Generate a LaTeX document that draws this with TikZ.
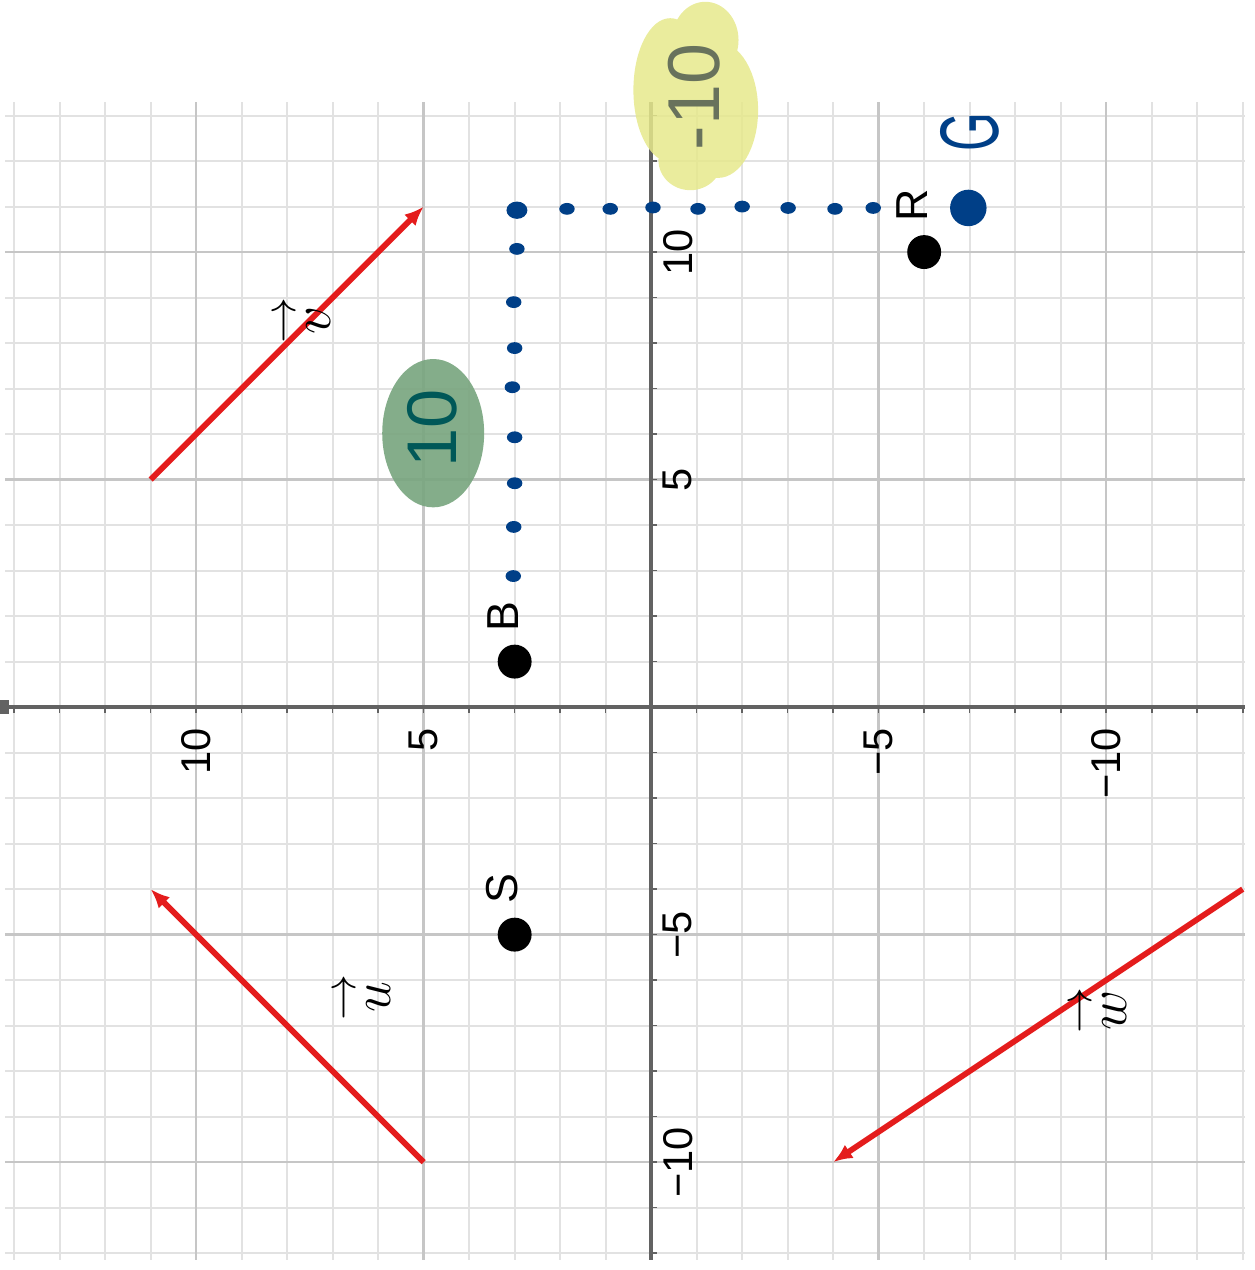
\documentclass[tikz,border=0pt]{standalone}
\usepackage{amsmath}
\usepackage{fontspec}
\setmainfont{Liberation Sans}
\usetikzlibrary{arrows.meta}

\definecolor{vecred}{RGB}{228,28,28}
\definecolor{inkblue}{RGB}{0,63,135}
\definecolor{inkteal}{RGB}{0,88,88}
\definecolor{inkolive}{RGB}{104,114,92}
\definecolor{blobyellow}{RGB}{230,233,140}
\definecolor{blobgreen}{RGB}{122,166,128}
\definecolor{gridminor}{RGB}{226,226,226}
\definecolor{gridmajor}{RGB}{198,198,198}
\definecolor{axisgray}{RGB}{98,98,98}

\newcommand{\vecname}[1]{\overset{\text{\fontsize{15}{15}\selectfont$\rightarrow$}}{#1}}

\begin{document}
\begin{tikzpicture}[x=0.5cm,y=0.5cm,
    minorline/.style={gridminor, line width=0.6pt},
    majorline/.style={gridmajor, line width=0.8pt},
    axisline/.style={axisgray, line width=1.1pt},
    tickline/.style={axisgray, line width=0.5pt},
    vec/.style={vecred, line width=1.8pt, -{Latex[length=6pt,width=5pt]}},
    pt/.style={circle, fill=black, inner sep=0pt, minimum size=10.6pt},
    ptlabel/.style={rotate=90, font=\fontsize{14}{16}\selectfont, inner sep=0pt},
    num/.style={rotate=90, font=\fontsize{13}{15}\selectfont, inner sep=0pt},
    veclabel/.style={rotate=90, font=\fontsize{18}{20}\selectfont, inner sep=0pt},
    hand/.style={rotate=90, inner sep=0pt}]
    \useasboundingbox (-14.31,-12.37) rectangle (13.25,15.54);

    \begin{scope}[rotate=90]
        % grid
        \foreach \gx in {-12,...,13}
            \draw[minorline] (\gx,-13.05) -- (\gx,14.2);
        \foreach \gy in {-13,...,14}
            \draw[minorline] (-12.15,\gy) -- (13.3,\gy);
        \foreach \m in {-10,-5,5,10} {
            \draw[majorline] (\m,-13.05) -- (\m,14.2);
            \draw[majorline] (-12.15,\m) -- (13.3,\m);
        }

        % axes and ticks
        \draw[axisline] (-12.15,0) -- (13.3,0);
        \draw[axisline] (0,-13.05) -- (0,14.2);
        \fill[axisgray] (-0.15,14.12) rectangle (0.15,14.3);
        \foreach \t in {-12,...,13}
            \draw[tickline] (\t,0) -- (\t,-0.12);
        \foreach \t in {-13,...,14}
            \draw[tickline] (0,\t) -- (-0.12,\t);

        \node[num, anchor=north] (x10) at (10,-0.25) {10};
        \node[num, anchor=north] (x5) at (5,-0.25) {5};
        \node[num, anchor=north] (xm5) at (-5,-0.25) {−5};
        \node[num, anchor=north] (xm10) at (-10,-0.25) {−10};
        \node[num, anchor=east] (y10) at (-0.45,10) {10};
        \node[num, anchor=east] (y5) at (-0.45,5) {5};
        \node[num, anchor=east] (ym5) at (-0.45,-5) {−5};
        \node[num, anchor=east] (ym10) at (-0.45,-10) {−10};

        % highlighter blobs
        \fill[blobyellow, opacity=0.85]
            (14.66,-1.19) ellipse [x radius=0.84, y radius=0.73]
            (13.56,-0.42) ellipse [x radius=1.58, y radius=0.81]
            (13.12,-1.47) ellipse [x radius=1.49, y radius=0.88]
            (12.02,-0.86) ellipse [x radius=0.66, y radius=0.70];
        \fill[blobgreen, opacity=0.92]
            (6.02,4.79) ellipse [x radius=1.63, y radius=1.12];

        % vectors
        \coordinate (v0) at (5,11);
        \coordinate (v1) at (11,5);
        \coordinate (u0) at (-10,5);
        \coordinate (u1) at (-4,11);
        \coordinate (w0) at (-4,-13);
        \coordinate (w1) at (-10,-4);
        \draw[vec] (v0) -- (v1);
        \draw[vec] (u0) -- (u1);
        \draw[vec] (w0) -- (w1);
        \node[veclabel] (vlabel) at (8.5,7.68) {$\vecname{v}$};
        \node[veclabel] (ulabel) at (-6.37,6.35) {$\vecname{u}$};
        \node[veclabel] (wlabel) at (-6.66,-9.82) {$\vecname{w}$};

        % points
        \node[pt] (B) at (1,3) {};
        \node[pt] (S) at (-5,3) {};
        \node[pt] (R) at (10,-6) {};
        \node[ptlabel] (Blabel) at (1.98,3.26) {B};
        \node[ptlabel] (Slabel) at (-3.99,3.28) {S};
        \node[ptlabel] (Rlabel) at (11.03,-5.73) {R};

        % hand drawn dotted path to G
        \foreach \dx/\dy in {2.88/3.03, 3.96/3.02, 4.92/3.0, 5.93/3.0, 7.03/3.05,
                             7.89/3.0, 8.9/3.02, 10.07/2.95,
                             10.95/1.85, 10.95/0.9, 10.98/-0.04, 10.95/-1.03,
                             11.0/-2.0, 10.97/-3.01, 10.95/-4.04, 10.97/-4.88}
            \fill[inkblue] (\dx,\dy) ellipse [x radius=0.13, y radius=0.17];
        \fill[inkblue] (10.92,2.95) ellipse [x radius=0.19, y radius=0.23];
        \node[circle, fill=inkblue, inner sep=0pt, minimum size=11.4pt] (G) at (10.97,-6.97) {};
        \node[hand, inkblue, font=\fontsize{26}{28}\selectfont, xscale=0.6] (Glabel) at (12.64,-7.01) {G};
        \node[hand, inkolive, font=\fontsize{23}{25}\selectfont] (dylabel) at (13.41,-0.95) {-10};
        \node[hand, inkteal, font=\fontsize{22}{24}\selectfont] (dxlabel) at (6.13,4.81) {10};
    \end{scope}
\end{tikzpicture}
\end{document}
